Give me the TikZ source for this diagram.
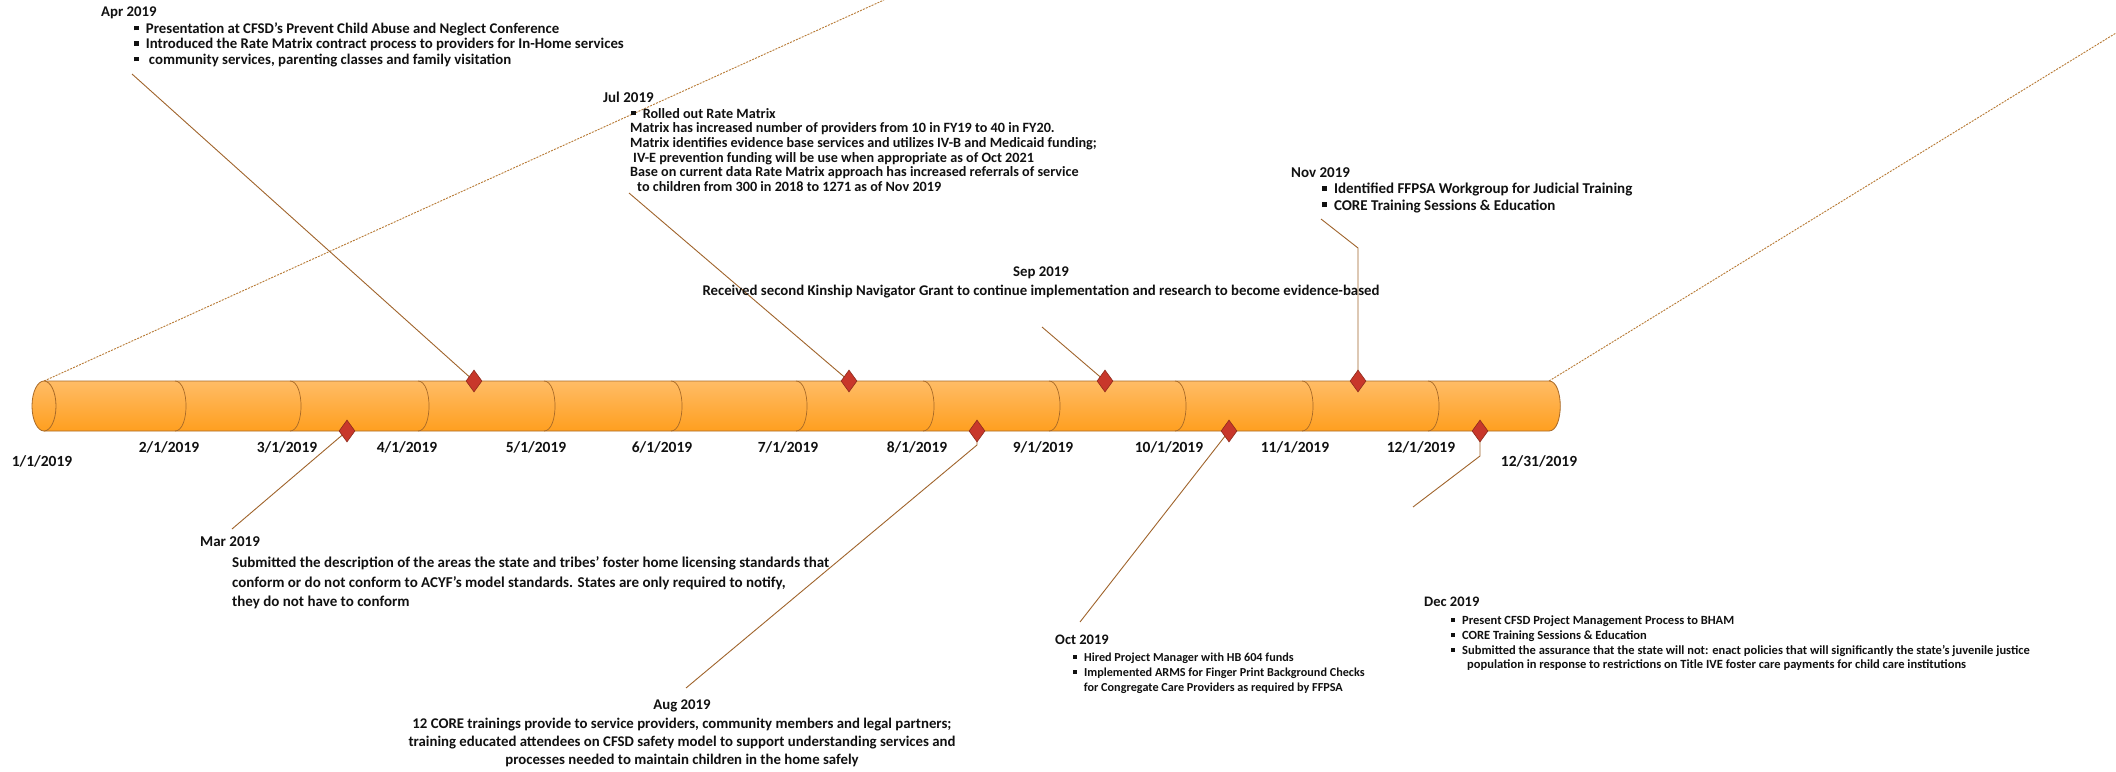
\documentclass[tikz,border=0pt]{standalone}
\usepackage{fontspec}
\setmainfont{Carlito}
\usetikzlibrary{shapes.geometric}
\definecolor{barTop}{HTML}{FFBC66}
\definecolor{barBot}{HTML}{FF9F1F}
\definecolor{barEdge}{HTML}{A86A28}
\definecolor{dmdFill}{HTML}{C8372B}
\definecolor{dmdEdge}{HTML}{8E2B1C}
\definecolor{connC}{HTML}{A0642C}
\definecolor{dashC}{HTML}{B87A35}
\definecolor{ink}{HTML}{111111}
\newcommand\fs[2]{\fontsize{#1}{#2}\selectfont\bfseries}
\newcommand\sqb{\raisebox{0.2em}{\rule{0.32em}{0.32em}}}
\begin{document}
\begin{tikzpicture}[x=1pt,y=1pt,
  txt/.style={anchor=north west, align=left, inner sep=0pt, text=ink},
  ctxt/.style={anchor=north, align=center, inner sep=0pt, text=ink},
  datelbl/.style={inner sep=0pt, text=ink, font=\fs{15.5}{16}},
  barline/.style={draw=barEdge, line width=0.8pt},
  divline/.style={draw=barEdge, line width=0.7pt},
  dmd/.style={shape=diamond, draw=dmdEdge, fill=dmdFill, line width=0.6pt, minimum width=16pt, minimum height=22pt, inner sep=0pt},
  conn/.style={draw=connC, line width=0.9pt},
  zoomline/.style={draw=dashC, line width=0.9pt, dash pattern=on 2pt off 1.2pt}]
\useasboundingbox (0,0) rectangle (2116,-771);
\fill[white] (0,0) rectangle (2116,-771);

% bar corner coordinates
\coordinate (barTL) at (44,-381);
\coordinate (barTR) at (1549,-381);
\coordinate (zL) at (884,0);
\coordinate (zR) at (2116,-33);

% zoom dashed lines
\draw[zoomline] (barTL) -- (zL);
\draw[zoomline] (barTR) -- (zR);

% bar body
\path[top color=barTop, bottom color=barBot] (44,-381) -- (1549,-381) .. controls (1564,-381) and (1564,-431) .. (1549,-431) -- (44,-431) -- cycle;
\draw[barline] (44,-381) -- (1549,-381) .. controls (1564,-381) and (1564,-431) .. (1549,-431) -- (44,-431);
\foreach \d in {175,290,418,544,671,796,923,1049,1175,1302,1428}
  \draw[divline] (\d,-381) .. controls ({\d+14.7},-381) and ({\d+14.7},-431) .. (\d,-431);
\path[top color=barTop, bottom color=barBot, barline] (44,-406) ellipse [x radius=12, y radius=25];

% date labels
\node[datelbl] (d01) at (42,-461) {1/1/2019};
\node[datelbl] (d02) at (169,-447) {2/1/2019};
\node[datelbl] (d03) at (287,-447) {3/1/2019};
\node[datelbl] (d04) at (407,-447) {4/1/2019};
\node[datelbl] (d05) at (536,-447) {5/1/2019};
\node[datelbl] (d06) at (662,-447) {6/1/2019};
\node[datelbl] (d07) at (788,-447) {7/1/2019};
\node[datelbl] (d08) at (917,-447) {8/1/2019};
\node[datelbl] (d09) at (1043,-447) {9/1/2019};
\node[datelbl] (d10) at (1169,-447) {10/1/2019};
\node[datelbl] (d11) at (1295,-447) {11/1/2019};
\node[datelbl] (d12) at (1421,-447) {12/1/2019};
\node[datelbl] (d13) at (1539,-461) {12/31/2019};

% milestone positions
\coordinate (pMar) at (347,-431);
\coordinate (pApr) at (474,-381);
\coordinate (pJul) at (849,-381);
\coordinate (pAug) at (977,-431);
\coordinate (pSep) at (1105,-381);
\coordinate (pOct) at (1229,-431);
\coordinate (pNov) at (1358,-381);
\coordinate (pDec) at (1480,-431);

% connector ends
\coordinate (eApr) at (132,-74);
\coordinate (eJul) at (629,-193);
\coordinate (eSep) at (1042,-327);
\coordinate (kNov) at (1358,-248);
\coordinate (eNov) at (1321,-219);
\coordinate (eMar) at (232,-529);
\coordinate (kAug) at (977,-445);
\coordinate (eAug) at (686,-688);
\coordinate (eOct) at (1080,-622);
\coordinate (kDec) at (1480,-456);
\coordinate (eDec) at (1413,-507);

\draw[conn] (pApr) -- (eApr);
\draw[conn] (pJul) -- (eJul);
\draw[conn] (pSep) -- (eSep);
\draw[conn] (pNov) -- (kNov) -- (eNov);
\draw[conn] (pMar) -- (eMar);
\draw[conn] (pAug) -- (kAug) -- (eAug);
\draw[conn] (pOct) -- (eOct);
\draw[conn] (pDec) -- (kDec) -- (eDec);

\node[dmd] (dMar) at (pMar) {};
\node[dmd] (dApr) at (pApr) {};
\node[dmd] (dJul) at (pJul) {};
\node[dmd] (dAug) at (pAug) {};
\node[dmd] (dSep) at (pSep) {};
\node[dmd] (dOct) at (pOct) {};
\node[dmd] (dNov) at (pNov) {};
\node[dmd] (dDec) at (pDec) {};

% texts
\node[txt, font=\fs{14.8}{15.5}] (tApr) at (101,-7) {Apr 2019\\[1pt]
\hspace*{33pt}\sqb\hspace{7pt}Presentation at CFSD’s Prevent Child Abuse and Neglect Conference\\
\hspace*{33pt}\sqb\hspace{7pt}Introduced the Rate Matrix contract process to providers for In-Home services\\
\hspace*{33pt}\sqb\hspace{10pt}community services, parenting classes and family visitation};

\node[txt, font=\fs{14.2}{14.6}] (tJul) at (603,-92) {{\fontsize{15}{15}\selectfont Jul 2019}\\[1pt]
\hspace*{28pt}\sqb\hspace{7pt}Rolled out Rate Matrix\\
\hspace*{27pt}Matrix has increased number of providers from 10 in FY19 to 40 in FY20.\\
\hspace*{27pt}Matrix identifies evidence base services and utilizes IV-B and  Medicaid funding;\\
\hspace*{30pt}IV-E prevention funding will be use when appropriate as of Oct 2021\\
\hspace*{27pt}Base on current data Rate Matrix approach has increased referrals of service\\
\hspace*{34pt}to children from 300 in 2018 to  1271 as of Nov 2019};

\node[txt, font=\fs{15}{16.5}] (tNov) at (1291,-167) {Nov 2019\\
\hspace*{31pt}\sqb\hspace{7pt}Identified FFPSA Workgroup for Judicial Training\\
\hspace*{31pt}\sqb\hspace{7pt}CORE Training Sessions \& Education};

\node[ctxt, font=\fs{14.8}{18.5}] (tSep) at (1041,-267) {Sep 2019\\
Received second Kinship Navigator Grant to continue implementation and research to become evidence-based};

\node[txt, font=\fs{15}{19.5}] (tMar) at (200,-536) {Mar 2019\\[2pt]
\hspace*{32pt}Submitted the description of the areas the state and tribes' foster home licensing standards that\\
\hspace*{32pt}conform or do not conform to ACYF's model standards. States are only required to notify,\\
\hspace*{32pt}they do not have to conform};

\node[ctxt, font=\fs{14.8}{18}] (tAug) at (682,-700) {Aug 2019\\[1pt]
12 CORE trainings provide to service providers, community members and legal partners;\\
training educated attendees on CFSD safety model to support understanding services and\\
processes needed to maintain children in the home safely};

\node[txt, font=\fs{12.2}{15.3}] (tOct) at (1055,-635) {{\fontsize{14.5}{15}\selectfont Oct 2019}\\[1pt]
\hspace*{18pt}\sqb\hspace{7pt}Hired Project Manager with HB 604 funds\\
\hspace*{18pt}\sqb\hspace{7pt}Implemented ARMS for Finger Print Background Checks\\
\hspace*{28.7pt}for Congregate Care Providers as required by FFPSA};

\node[txt, font=\fs{12.5}{14.8}] (tDec) at (1424,-597) {{\fontsize{14.5}{15}\selectfont Dec 2019}\\[3pt]
\hspace*{27pt}\sqb\hspace{7pt}Present CFSD Project Management Process to BHAM\\
\hspace*{27pt}\sqb\hspace{7pt}CORE Training Sessions \& Education\\
\hspace*{27pt}\sqb\hspace{7pt}Submitted the assurance that the state will not: enact policies that will significantly the state's juvenile justice\\
\hspace*{43pt}population in response to restrictions on Title IVE foster care payments for child care institutions};
\end{tikzpicture}
\end{document}
